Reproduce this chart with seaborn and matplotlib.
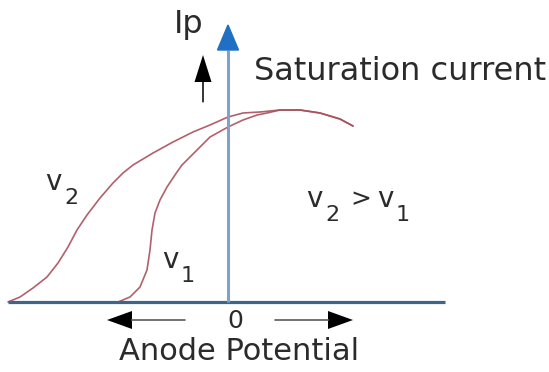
import matplotlib
matplotlib.use('Agg')
import matplotlib.pyplot as plt
import seaborn as sns
import pandas as pd

# values (units: potential / current, origin at the axes crossing)
v2_potential = [-220, -208, -195, -181, -170, -160, -151, -141, -128, -115, -105, -95, -75, -55, -35, -18,
                0, 15, 32, 52, 72, 92, 112, 125]
v2_current = [0, 5, 14, 25, 39, 55, 72, 87, 104, 119, 129, 137, 149, 160, 170, 177,
              185, 189, 190, 192, 192, 189, 183, 176]

v1_potential = [-110, -98, -88, -81, -78, -76, -73, -68, -61, -51, -46, -31, -18,
                0, 15, 29, 39, 52, 72, 92, 112, 125]
v1_current = [0, 5, 15, 32, 52, 72, 89, 102, 115, 130, 137, 152, 165,
              175, 182, 187, 189, 192, 192, 189, 183, 176]

axis_x_range = [-220, 217]
axis_y_top = 277

curve_labels = [('2', -175, 120), ('1', -58, 42)]

sns.set_style('white')
plt.rcParams['font.family'] = ['DejaVu Sans']

curve_color = '#a8505c'
text_color = '#2b2b2b'

fig = plt.figure(figsize=(5.49, 3.72), dpi=100)
ax = fig.add_axes([0, 0, 1, 1])

curves = pd.concat([
    pd.DataFrame({'potential': v2_potential, 'current': v2_current, 'curve': 'v2'}),
    pd.DataFrame({'potential': v1_potential, 'current': v1_current, 'curve': 'v1'}),
])
sns.lineplot(data=curves, x='potential', y='current', units='curve', estimator=None,
             sort=False, color=curve_color, lw=1.2, alpha=0.9, ax=ax)
for line in ax.lines:
    line.set_solid_joinstyle('round')

# axes lines
ax.plot(axis_x_range, [0, 0], color='#3d6587', lw=2.3, solid_capstyle='butt', zorder=3)
ax.plot([0, 0], [0, axis_y_top - 25], color='#7fa3c6', lw=2.2, solid_capstyle='butt', zorder=3)
ax.arrow(0, axis_y_top - 25, 0, 25, width=0.1, head_width=21, head_length=25,
         length_includes_head=True, color='#1f70c4', zorder=4)

# small black arrows
ax.arrow(-25, 200, 0, 47, width=1.2, head_width=17, head_length=27,
         length_includes_head=True, color='black', ec='none', zorder=4)
ax.plot([-25, -25], [200, 222], color='#888888', lw=1.3)
ax.arrow(-43, -18, -78, 0, width=1.2, head_width=18, head_length=25,
         length_includes_head=True, color='black', ec='none')
ax.plot([-43, -96], [-18, -18], color='#777777', lw=1.3)
ax.arrow(47, -18, 78, 0, width=1.2, head_width=18, head_length=25,
         length_includes_head=True, color='black', ec='none')
ax.plot([47, 100], [-18, -18], color='#777777', lw=1.3)


def v_label(x, y, sub):
    ax.text(x, y, 'v', fontsize=20, color=text_color, ha='center', va='center')
    ax.text(x + 18, y - 16, sub, fontsize=16, color=text_color, ha='center', va='center')


for sub, x, y in curve_labels:
    v_label(x, y, sub)

v_label(86, 103, '2')
ax.text(133, 103, '>', fontsize=18, color=text_color, ha='center', va='center')
v_label(157, 103, '1')

ax.text(-39, 277, 'Ip', fontsize=23, color=text_color, ha='center', va='center')
ax.text(26, 230, 'Saturation current', fontsize=23, color=text_color, ha='left', va='center')
ax.text(7, -19, '0', fontsize=18, color=text_color, ha='center', va='center')
ax.text(11, -49, 'Anode Potential', fontsize=22, color=text_color, ha='center', va='center')

ax.set_xlim(-228, 321)
ax.set_ylim(-70, 302)
ax.axis('off')

fig.savefig('out.png', dpi=100, facecolor='white')
